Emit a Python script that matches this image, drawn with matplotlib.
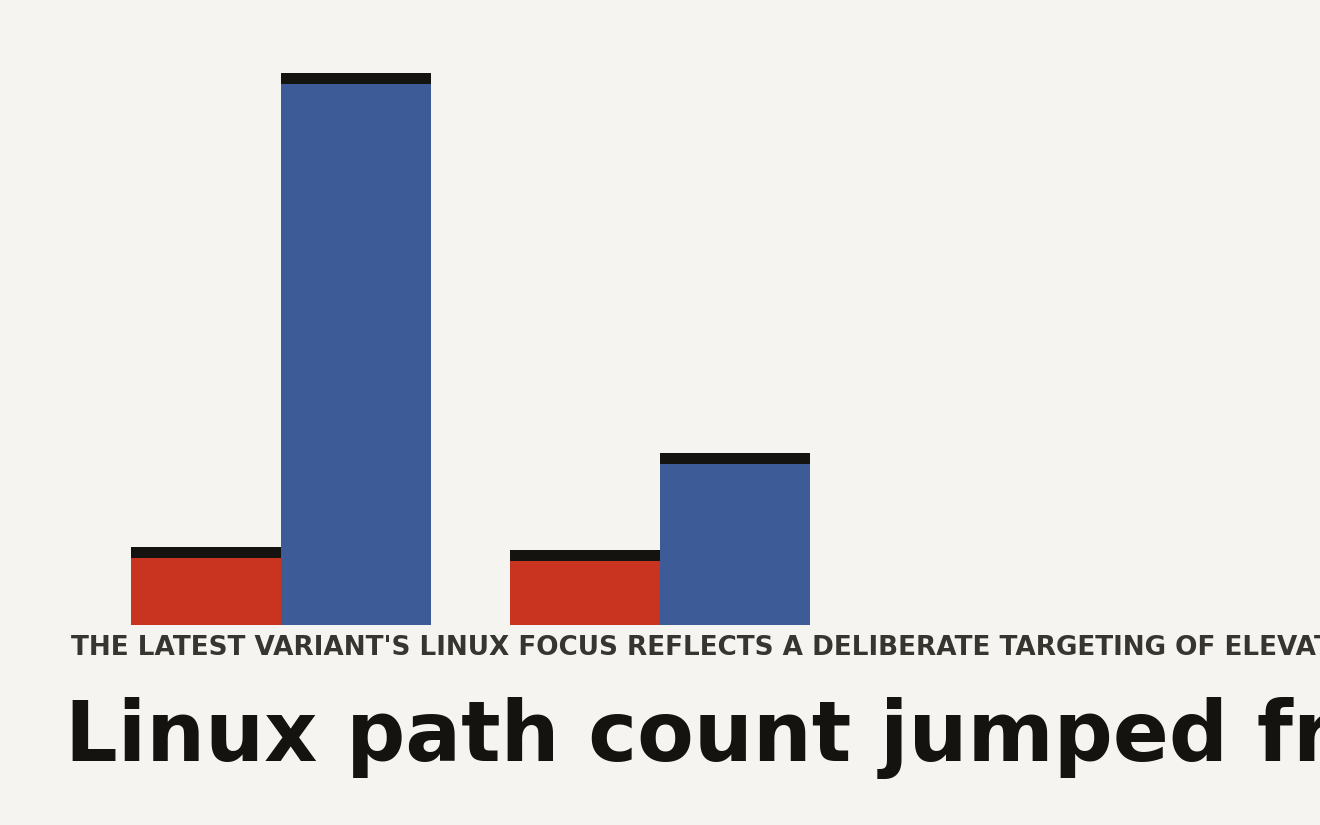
import matplotlib.pyplot as plt
import numpy as np

# values (height of coloured part, arbitrary units)
groups = ['group 1', 'group 2']
previous = [10.0, 9.55]
latest = [80.7, 24.0]

subtitle = "THE LATEST VARIANT'S LINUX FOCUS REFLECTS A DELIBERATE TARGETING OF ELEVATED PRIVILEGES"
title = "Linux path count jumped from"

bg = '#f5f4f0'
red = '#c93420'
blue = '#3d5b96'
ink = '#14130f'

fig = plt.figure(figsize=(13.2, 8.25), dpi=100, facecolor=bg)
ax = fig.add_axes([0, 200 / 825, 1, 625 / 825])
ax.set_facecolor(bg)

x = np.arange(len(groups))
w = 150 / 379.5
cap = 11 / 6.7

ax.bar(x - w / 2, previous, width=w, color=red, linewidth=0)
ax.bar(x + w / 2, latest, width=w, color=blue, linewidth=0)
ax.bar(x - w / 2, cap, bottom=previous, width=w, color=ink, linewidth=0)
ax.bar(x + w / 2, cap, bottom=latest, width=w, color=ink, linewidth=0)

xmin = -280.5 / 379.5
ax.set_xlim(xmin, xmin + 1320 / 379.5)
ax.set_ylim(0, 625 / 6.7)
ax.axis('off')

fig.text(71 / 1320, 1 - 655 / 825, subtitle, fontsize=18.9, fontweight='bold',
         color='#363530', ha='left', va='baseline')
fig.text(65 / 1320, 1 - 761 / 825, title, fontsize=59.5, fontweight='bold',
         color=ink, ha='left', va='baseline')

fig.savefig('out.png', dpi=100, facecolor=bg)
